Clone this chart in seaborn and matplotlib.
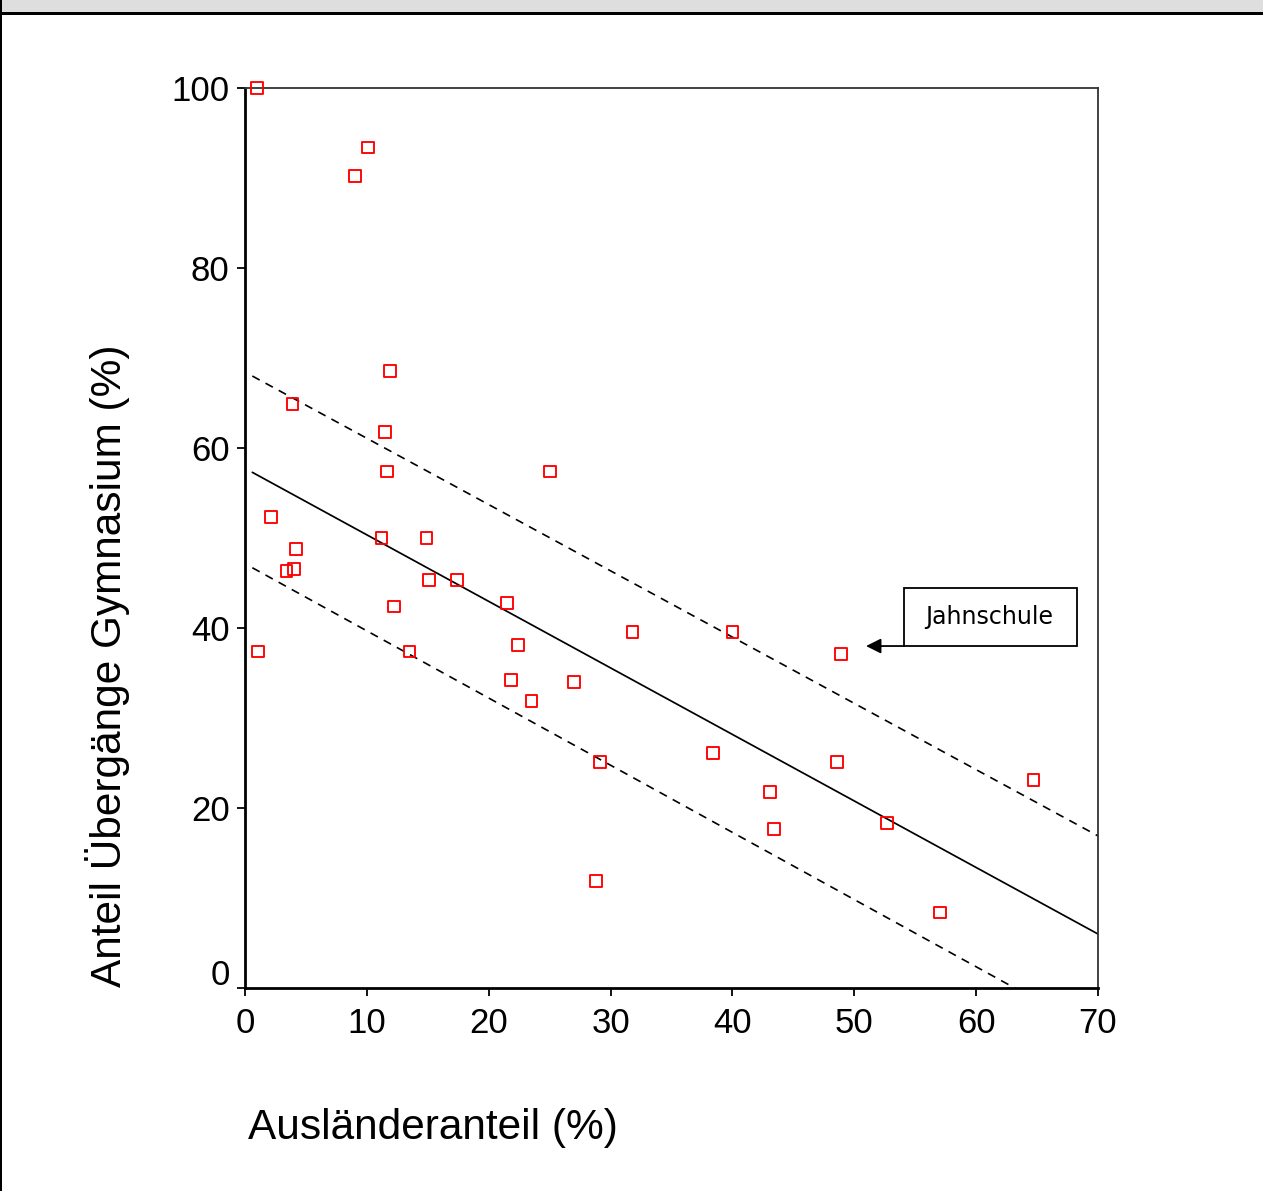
import matplotlib
matplotlib.use("Agg")
import matplotlib.pyplot as plt
import matplotlib.patches as mpatches
from matplotlib.transforms import ScaledTranslation
import pandas as pd
import seaborn as sns

# values
auslaender = [0.98, 10.1, 9.0, 11.9, 3.9, 11.5, 11.65, 25.0, 2.1, 11.2, 14.9, 4.2,
              3.4, 4.0, 15.1, 17.4, 21.5, 12.2, 31.8, 40.0, 22.4, 1.07, 13.5, 48.9,
              21.8, 27.0, 23.5, 38.4, 29.1, 48.6, 64.7, 43.1, 43.4, 52.7, 28.8, 57.0]
gymnasium = [100.0, 93.4, 90.2, 68.6, 64.9, 61.8, 57.4, 57.4, 52.3, 50.0, 50.0, 48.8,
             46.3, 46.6, 45.3, 45.3, 42.8, 42.4, 39.6, 39.6, 38.1, 37.4, 37.4, 37.1,
             34.2, 34.0, 31.9, 26.1, 25.1, 25.1, 23.1, 21.8, 17.7, 18.3, 11.9, 8.4]

# regression line and band, end points
line_x = [0.6, 70.0]
fit_y = [57.3, 6.0]
upper_y = [68.0, 16.9]
lower_y = [46.7, -5.1]

x_ticks = [0, 10, 20, 30, 40, 50, 60, 70]
y_ticks = [0, 20, 40, 60, 80, 100]

df = pd.DataFrame({"auslaender": auslaender, "gymnasium": gymnasium})

sns.set_style("ticks")
plt.rcParams['font.family'] = ['Liberation Sans', 'DejaVu Sans']
plt.rcParams.update({"text.color": "black", "axes.labelcolor": "black",
                     "xtick.color": "black", "ytick.color": "black"})

fig = plt.figure(figsize=(12.63, 11.91), dpi=100)
ax = fig.add_axes([0.194, 0.1704, 0.6754, 0.7557])

ax.plot(line_x, fit_y, color="black", lw=1.25)
ax.plot(line_x, upper_y, color="black", lw=1.2, dashes=(5, 4))
ax.plot(line_x, lower_y, color="black", lw=1.2, dashes=(5, 4))

sns.scatterplot(data=df, x="auslaender", y="gymnasium", ax=ax, marker="s", s=72,
                facecolors="none", edgecolor="red", linewidth=1.35, clip_on=False, zorder=5)

ax.set_xlim(0, 70)
ax.set_ylim(0, 100)
ax.set_xticks(x_ticks)
ax.set_yticks(y_ticks)
ax.tick_params(axis="both", direction="out", length=6, width=1.3, labelsize=25,
               color="black", labelcolor="black")
ax.tick_params(axis="y", pad=5)
ax.tick_params(axis="x", pad=8)

for side in ["left", "bottom"]:
    ax.spines[side].set_linewidth(2.0)
    ax.spines[side].set_color("black")
for side in ["top", "right"]:
    ax.spines[side].set_visible(True)
    ax.spines[side].set_linewidth(1.3)
    ax.spines[side].set_color("#333333")

ax.set_xlabel("Ausländeranteil (%)", fontsize=30.5, ha="left", va="center")
ax.xaxis.set_label_coords(0.003, -0.156)
ax.set_ylabel("Anteil Übergänge Gymnasium (%)", fontsize=30.5, va="center")
ax.yaxis.set_label_coords(-0.161, 0.358)

# annotation box with arrow
ax.add_patch(mpatches.Rectangle((54.08, 38.0), 14.19, 6.4, fill=False, ec="black",
                                lw=1.3, clip_on=False, zorder=6))
ax.text(61.1, 41.2, "Jahnschule", ha="center", va="center", fontsize=17,
        family="DejaVu Sans", color="black", zorder=7)
ax.annotate("", xy=(50.96, 38.0), xytext=(54.08, 38.0),
            arrowprops=dict(arrowstyle="-|>,head_length=0.9,head_width=0.45",
                            color="black", lw=1.3, shrinkA=0, shrinkB=0))

# frame of the page: grey header band and left edge
fig.patches.append(mpatches.Rectangle((0, 1 - 12 / 1191), 1, 12 / 1191,
                                      transform=fig.transFigure, fc="#dedede", ec="none"))
fig.patches.append(mpatches.Rectangle((0, 1 - 15 / 1191), 1, 3 / 1191,
                                      transform=fig.transFigure, fc="black", ec="none"))
fig.patches.append(mpatches.Rectangle((0, 0), 2 / 1263, 1,
                                      transform=fig.transFigure, fc="black", ec="none"))

# the "0" on the y axis sits a bit higher than its tick
fig.canvas.draw()
lab0 = ax.get_yticklabels()[0]
lab0.set_transform(lab0.get_transform() + ScaledTranslation(0, 0.16, fig.dpi_scale_trans))

fig.savefig("out.png", dpi=100)
